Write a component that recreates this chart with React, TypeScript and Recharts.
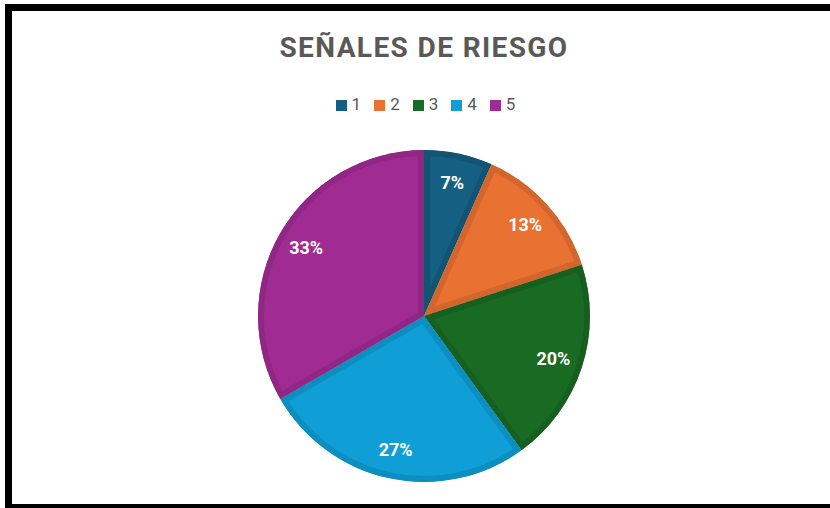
import React from 'react';
import { PieChart, Pie, Cell, Legend, Sector } from 'recharts';

const CATEGORIES = ['1', '2', '3', '4', '5'];
const VALUES = [1, 2, 3, 4, 5];

const FILLS = ['#156082', '#E97132', '#196B24', '#0F9ED5', '#A02B93'];
const EDGES = ['#125472', '#D3662D', '#165F20', '#0D8EC0', '#902784'];

const data = CATEGORIES.map((name, i) => ({ name, value: VALUES[i] }));

const RADIAN = Math.PI / 180;

const renderSlice = (props: any) => {
  const i = CATEGORIES.indexOf(props.name ?? props.payload?.name);
  const id = `slice-clip-${i}`;
  const geom = {
    cx: props.cx,
    cy: props.cy,
    innerRadius: props.innerRadius,
    outerRadius: props.outerRadius,
    startAngle: props.startAngle,
    endAngle: props.endAngle,
  };
  return (
    <g>
      <defs>
        <clipPath id={id}>
          <Sector {...geom} />
        </clipPath>
      </defs>
      <Sector {...geom} fill={FILLS[i]} stroke={EDGES[i]} strokeWidth={12} clipPath={`url(#${id})`} />
    </g>
  );
};

const renderLabel = (props: any) => {
  const { cx, cy, midAngle, outerRadius, percent } = props;
  const r = outerRadius * 0.82;
  const x = cx + r * Math.cos(-midAngle * RADIAN);
  const y = cy + r * Math.sin(-midAngle * RADIAN);
  return (
    <text
      x={x}
      y={y}
      fill="#fff"
      textAnchor="middle"
      dominantBaseline="central"
      style={{ fontFamily: 'Roboto, sans-serif', fontWeight: 700, fontSize: 18 }}
    >
      {`${Math.round(percent * 100)}%`}
    </text>
  );
};

export default function App() {
  return (
    <div
      style={{
        position: 'fixed',
        left: 0,
        top: 0,
        width: 830,
        height: 508,
        background: '#fff',
        overflow: 'hidden',
        fontFamily: 'Roboto, sans-serif',
      }}
    >
      <div
        style={{
          position: 'absolute',
          left: 5,
          top: 4,
          width: 900,
          height: 504,
          boxSizing: 'border-box',
          borderTop: '7px solid #000',
          borderLeft: '7px solid #000',
          borderBottom: '4px solid #000',
        }}
      />
      <div
        style={{
          position: 'absolute',
          left: 0,
          top: 34,
          width: 848,
          textAlign: 'center',
          fontSize: 28,
          lineHeight: '28px',
          fontWeight: 700,
          letterSpacing: 1.4,
          color: '#595959',
        }}
      >
        SEÑALES DE RIESGO
      </div>
      <div style={{ position: 'absolute', left: 0, top: 0 }}>
        <PieChart width={830} height={508}>
          <Legend
            verticalAlign="top"
            align="center"
            iconType="square"
            iconSize={11}
            wrapperStyle={{ top: 94, left: 22, fontSize: 17 }}
            formatter={(value: string) => (
              <span style={{ color: '#595959', marginLeft: 1, marginRight: 3 }}>{value}</span>
            )}
          />
          <Pie
            data={data}
            dataKey="value"
            nameKey="name"
            cx={419}
            cy={291}
            outerRadius={166}
            startAngle={90}
            endAngle={-270}
            stroke="none"
            shape={renderSlice}
            label={renderLabel}
            labelLine={false}
            isAnimationActive={false}
          >
            {data.map((d, i) => (
              <Cell key={d.name} fill={FILLS[i]} />
            ))}
          </Pie>
        </PieChart>
      </div>
    </div>
  );
}
